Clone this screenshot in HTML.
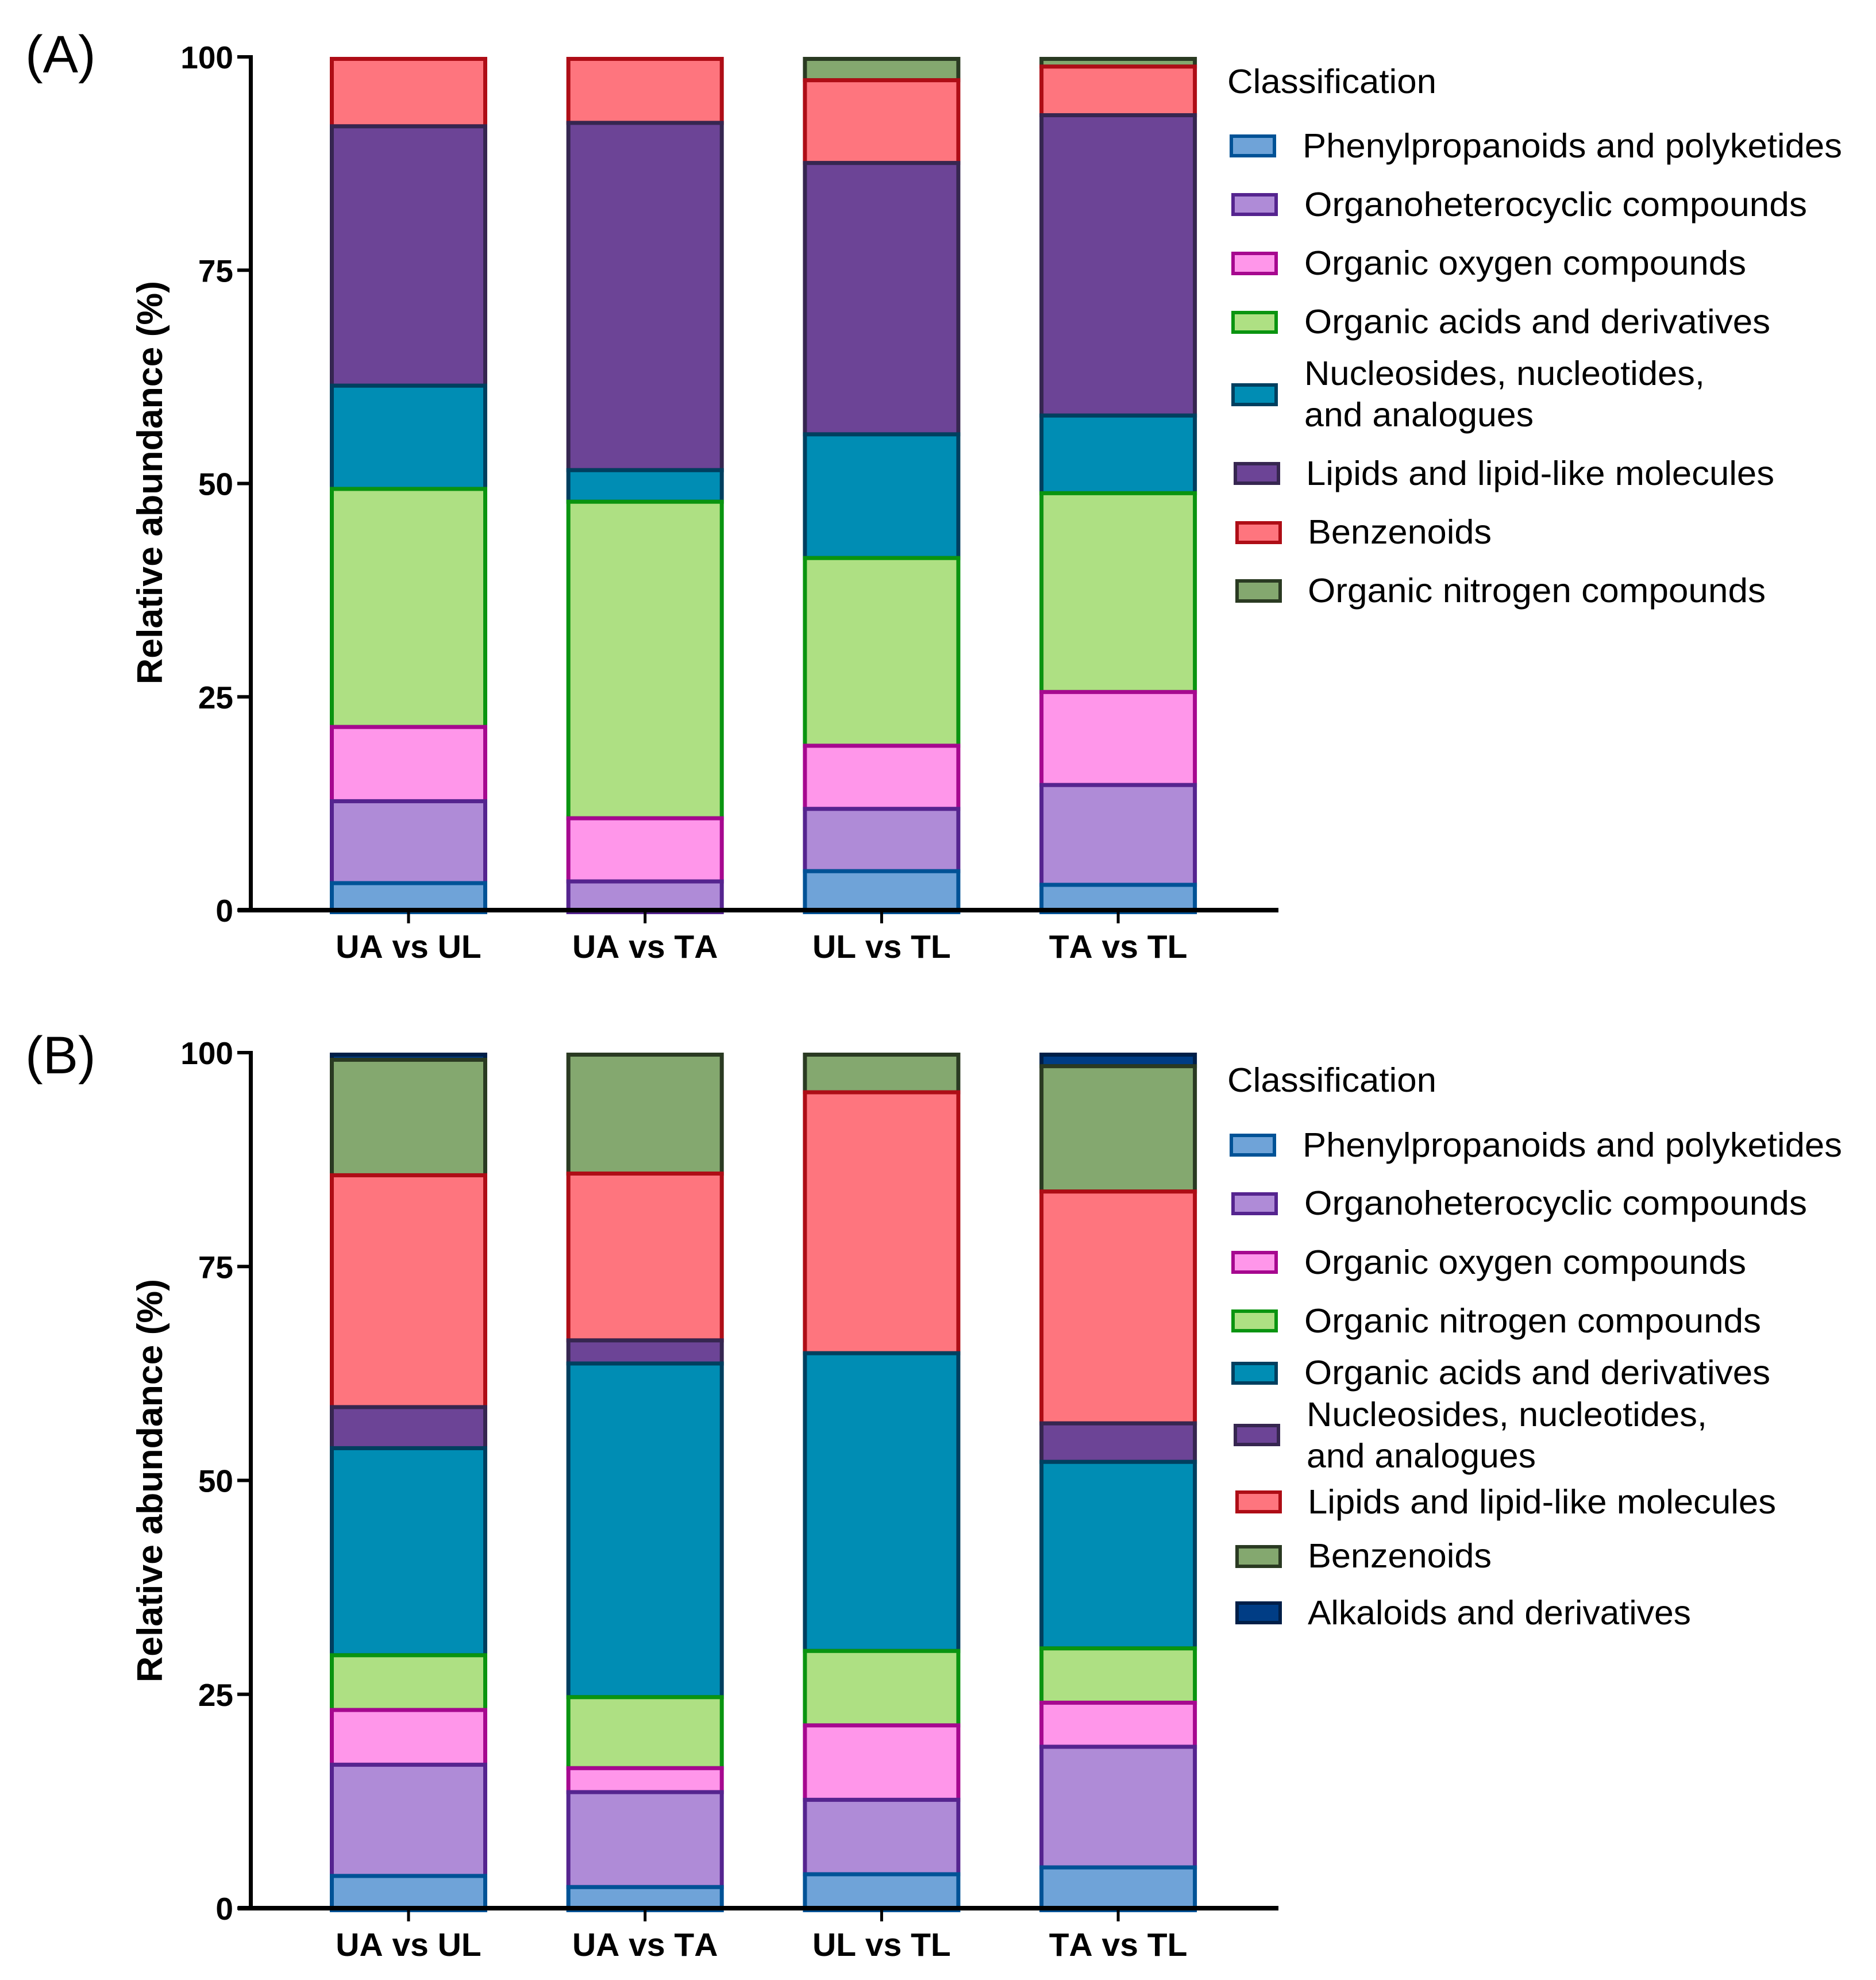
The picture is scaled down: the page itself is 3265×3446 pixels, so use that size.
<!DOCTYPE html>
<html lang="en">
<head>
<meta charset="utf-8">
<title>Relative abundance by classification</title>
<style>
html,body{margin:0;padding:0;background:#fff;}
svg{display:block;font-family:"Liberation Sans",Arial,sans-serif;}
.leg{font-size:59px;fill:#000;}
</style>
</head>
<body>
<svg id="figure" xmlns="http://www.w3.org/2000/svg" width="3265" height="3446" viewBox="0 0 3265 3446">
<rect x="0" y="0" width="3265" height="3446" fill="#fff"/>
<text x="44" y="126" font-size="92">(A)</text>
<text x="44" y="1868" font-size="92">(B)</text>
<text transform="translate(282,1191) rotate(-90)" font-size="62" font-weight="bold" textLength="702" lengthAdjust="spacingAndGlyphs">Relative abundance (%)</text>
<text transform="translate(282,2928) rotate(-90)" font-size="62" font-weight="bold" textLength="702" lengthAdjust="spacingAndGlyphs">Relative abundance (%)</text>
<g id="plot-a"></g>
<g id="plot-b"></g>

<g>
<text class="leg" x="2136" y="162" textLength="364" lengthAdjust="spacingAndGlyphs">Classification</text>
<g><rect x="2143" y="237" width="75" height="34" fill="#6fa3d8" stroke="#005296" stroke-width="6"/><text class="leg" x="2267" y="274" textLength="939" lengthAdjust="spacingAndGlyphs">Phenylpropanoids and polyketides</text></g>
<g><rect x="2146" y="339" width="75" height="34" fill="#af8bd7" stroke="#55248f" stroke-width="6"/><text class="leg" x="2270" y="376" textLength="875" lengthAdjust="spacingAndGlyphs">Organoheterocyclic compounds</text></g>
<g><rect x="2146" y="441" width="75" height="35" fill="#ff96ea" stroke="#a6088f" stroke-width="6"/><text class="leg" x="2270" y="478" textLength="769" lengthAdjust="spacingAndGlyphs">Organic oxygen compounds</text></g>
<g><rect x="2146" y="544" width="75" height="34" fill="#aee083" stroke="#0a9410" stroke-width="6"/><text class="leg" x="2270" y="580" textLength="811" lengthAdjust="spacingAndGlyphs">Organic acids and derivatives</text></g>
<g><rect x="2146" y="670" width="75" height="34" fill="#008db4" stroke="#003f5f" stroke-width="6"/><text class="leg" x="2270" y="670" textLength="697" lengthAdjust="spacingAndGlyphs">Nucleosides, nucleotides,</text><text class="leg" x="2270" y="742" textLength="399" lengthAdjust="spacingAndGlyphs">and analogues</text></g>
<g><rect x="2150" y="807" width="75" height="34" fill="#6c4496" stroke="#362650" stroke-width="6"/><text class="leg" x="2273" y="844" textLength="815" lengthAdjust="spacingAndGlyphs">Lipids and lipid-like molecules</text></g>
<g><rect x="2153" y="910" width="75" height="34" fill="#fe757e" stroke="#ae0d16" stroke-width="6"/><text class="leg" x="2276" y="946" textLength="320" lengthAdjust="spacingAndGlyphs">Benzenoids</text></g>
<g><rect x="2153" y="1011" width="75" height="35" fill="#84a86f" stroke="#2a3a22" stroke-width="6"/><text class="leg" x="2276" y="1048" textLength="797" lengthAdjust="spacingAndGlyphs">Organic nitrogen compounds</text></g>
</g>

<g>
<text class="leg" x="2136" y="1900" textLength="364" lengthAdjust="spacingAndGlyphs">Classification</text>
<g><rect x="2143" y="1976" width="75" height="34" fill="#6fa3d8" stroke="#005296" stroke-width="6"/><text class="leg" x="2267" y="2013" textLength="939" lengthAdjust="spacingAndGlyphs">Phenylpropanoids and polyketides</text></g>
<g><rect x="2146" y="2078" width="75" height="34" fill="#af8bd7" stroke="#55248f" stroke-width="6"/><text class="leg" x="2270" y="2114" textLength="875" lengthAdjust="spacingAndGlyphs">Organoheterocyclic compounds</text></g>
<g><rect x="2146" y="2180" width="75" height="34" fill="#ff96ea" stroke="#a6088f" stroke-width="6"/><text class="leg" x="2270" y="2217" textLength="769" lengthAdjust="spacingAndGlyphs">Organic oxygen compounds</text></g>
<g><rect x="2146" y="2282" width="75" height="34" fill="#aee083" stroke="#0a9410" stroke-width="6"/><text class="leg" x="2270" y="2319" textLength="795" lengthAdjust="spacingAndGlyphs">Organic nitrogen compounds</text></g>
<g><rect x="2146" y="2373" width="75" height="34" fill="#008db4" stroke="#003f5f" stroke-width="6"/><text class="leg" x="2270" y="2409" textLength="811" lengthAdjust="spacingAndGlyphs">Organic acids and derivatives</text></g>
<g><rect x="2150" y="2481" width="75" height="33" fill="#6c4496" stroke="#362650" stroke-width="6"/><text class="leg" x="2274" y="2482" textLength="697" lengthAdjust="spacingAndGlyphs">Nucleosides, nucleotides,</text><text class="leg" x="2274" y="2554" textLength="399" lengthAdjust="spacingAndGlyphs">and analogues</text></g>
<g><rect x="2153" y="2597" width="75" height="34" fill="#fe757e" stroke="#ae0d16" stroke-width="6"/><text class="leg" x="2276" y="2634" textLength="815" lengthAdjust="spacingAndGlyphs">Lipids and lipid-like molecules</text></g>
<g><rect x="2153" y="2692" width="75" height="34" fill="#84a86f" stroke="#2a3a22" stroke-width="6"/><text class="leg" x="2276" y="2728" textLength="320" lengthAdjust="spacingAndGlyphs">Benzenoids</text></g>
<g><rect x="2153" y="2790" width="75" height="34" fill="#003d85" stroke="#001f48" stroke-width="6"/><text class="leg" x="2276" y="2827" textLength="667" lengthAdjust="spacingAndGlyphs">Alkaloids and derivatives</text></g>
</g>
</svg>

<script>
// Shared axis data
const categories = ['UA vs UL', 'UA vs TA', 'UL vs TL', 'TA vs TL'];
const tickLabels = [0, 25, 50, 75, 100];

// Panel A: segment heights (%) per comparison, bottom to top
const aPhenylpropanoids = [3.4, 0, 4.8, 3.2];
const aOrganoheterocyclic = [9.6, 3.6, 7.3, 11.7];
const aOrganicOxygen = [8.7, 7.4, 7.4, 10.9];
const aOrganicAcids = [27.9, 37.1, 22.0, 23.3];
const aNucleosides = [12.1, 3.7, 14.5, 9.1];
const aLipids = [30.4, 40.7, 31.8, 35.2];
const aBenzenoids = [7.9, 7.5, 9.7, 5.7];
const aOrganicNitrogen = [0, 0, 2.5, 0.9];

// Panel B: segment heights (%) per comparison, bottom to top
const bPhenylpropanoids = [4.0, 2.7, 4.2, 5.0];
const bOrganoheterocyclic = [13.0, 11.1, 8.7, 14.1];
const bOrganicOxygen = [6.4, 2.8, 8.7, 5.15];
const bOrganicNitrogen = [6.4, 8.3, 8.7, 6.35];
const bOrganicAcids = [24.2, 39.0, 34.8, 21.8];
const bNucleosides = [4.8, 2.7, 0, 4.5];
const bLipids = [27.1, 19.5, 30.5, 27.1];
const bBenzenoids = [13.5, 13.9, 4.4, 14.65];
const bAlkaloids = [0.6, 0, 0, 1.35];

const seriesA = [aPhenylpropanoids, aOrganoheterocyclic, aOrganicOxygen, aOrganicAcids, aNucleosides, aLipids, aBenzenoids, aOrganicNitrogen];
const seriesB = [bPhenylpropanoids, bOrganoheterocyclic, bOrganicOxygen, bOrganicNitrogen, bOrganicAcids, bNucleosides, bLipids, bBenzenoids, bAlkaloids];

const fills = ['#6fa3d8', '#af8bd7', '#ff96ea', '#aee083', '#008db4', '#6c4496', '#fe757e', '#84a86f', '#003d85'];
const strokes = ['#005296', '#55248f', '#a6088f', '#0a9410', '#003f5f', '#362650', '#ae0d16', '#2a3a22', '#001f48'];

const SVGNS = 'http://www.w3.org/2000/svg';

function node(parent, tag, attrs) {
  const el = document.createElementNS(SVGNS, tag);
  for (const k in attrs) el.setAttribute(k, attrs[k]);
  parent.appendChild(el);
  return el;
}

function drawPanel(parent, series, yTop, yZero, key) {
  const yScale = v => yZero - (yZero - yTop) * v / 100;
  const xScale = i => 711 + 411.7 * i;
  const barWidth = 274;
  const sw = 7;

  // stacks: upper segments first, so each lower segment's top border overlays
  categories.forEach((cat, c) => {
    const cum = [];
    let run = 0;
    series.forEach(s => { cum.push([run, run + s[c]]); run += s[c]; });
    for (let i = series.length - 1; i >= 0; i--) {
      if (series[i][c] <= 0) continue;
      const top = yScale(cum[i][1]);
      const bottom = yScale(cum[i][0]);
      const seg = node(parent, 'rect', {
        x: xScale(c) - barWidth / 2 + sw / 2,
        y: top + sw / 2,
        width: barWidth - sw,
        height: bottom - top,
        fill: fills[i],
        stroke: strokes[i],
        'stroke-width': sw
      });
      
      
    }
  });

  // y axis
  const yAxis = node(parent, 'rect', { x: 433, y: yTop - 3, width: 7, height: yZero - yTop + 6, fill: '#000' });
  
  

  tickLabels.forEach(t => {
    const y = yScale(t);
    const tick = node(parent, 'rect', { x: 413, y: y - 3, width: 22, height: 6, fill: '#000' });
    
    
    const label = node(parent, 'text', {
      x: 406, y: y + 20, 'text-anchor': 'end', 'font-size': 55, 'font-weight': 'bold', fill: '#000'
    });
    label.textContent = t;
    
    
  });

  // x axis
  const xAxis = node(parent, 'rect', { x: 414, y: yZero - 4, width: 1811, height: 8, fill: '#000' });
  
  

  categories.forEach((cat, c) => {
    const x = xScale(c);
    const tick = node(parent, 'rect', { x: x - 2.5, y: yZero, width: 5, height: 23, fill: '#000' });
    
    
    const label = node(parent, 'text', {
      x: x, y: yZero + 83, 'text-anchor': 'middle', 'font-size': 57, 'font-weight': 'bold', fill: '#000',
      style: 'font-kerning:none'
    });
    label.textContent = cat;
    
    
  });
}

drawPanel(document.getElementById('plot-a'), seriesA, 99, 1584, 'a');
drawPanel(document.getElementById('plot-b'), seriesB, 1832, 3321, 'b');
</script>
</body>
</html>
